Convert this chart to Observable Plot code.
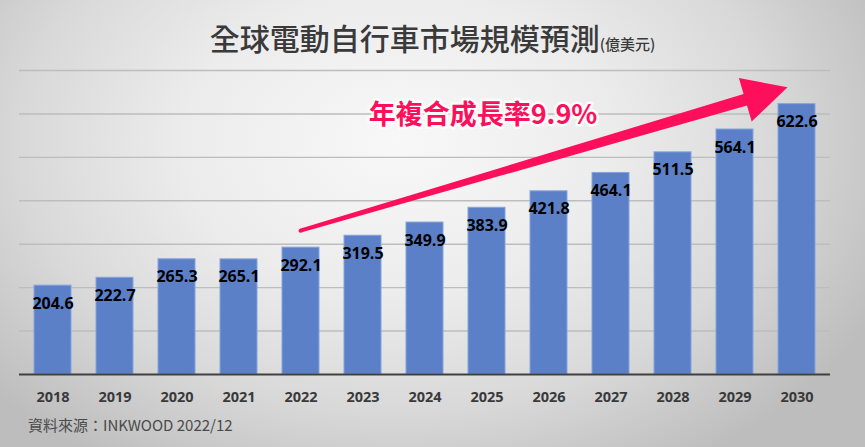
<!DOCTYPE html>
<html>
<head>
<meta charset="utf-8">
<script src="https://cdn.jsdelivr.net/npm/d3@7"></script>
<script src="https://cdn.jsdelivr.net/npm/@observablehq/plot@0.6"></script>
<style>
  html, body { margin: 0; padding: 0; }
  #wrap {
    width: 865px; height: 447px; position: relative; overflow: hidden;
    background: radial-gradient(ellipse 62% 85% at 46% 32%, #f8f8f8 0%, #ececec 40%, #d9d9d9 70%, #bdbdbd 100%);
    font-family: "Open Sans", "Noto Sans CJK TC", sans-serif;
  }
  #title {
    height: 56px; box-sizing: border-box; padding-top: 22px;
    text-align: center; color: #3a3a3a; line-height: 30px;
    font-family: "Noto Sans CJK TC", sans-serif; white-space: nowrap; font-weight: 500;
  }
  #title .main { font-size: 30px; }
  #title .unit { font-size: 15px; }
  #caption {
    height: 37px; line-height: 30px; padding-left: 28px; color: #4a4a4a;
    font-size: 15px; font-family: "Noto Sans CJK TC", "Open Sans", sans-serif;
  }
</style>
</head>
<body>
<div id="wrap">
  <div id="title"><span class="main">全球電動自行車市場規模預測</span><span class="unit">(億美元)</span></div>
  <div id="chart"></div>
  <div id="caption">資料來源：INKWOOD 2022/12</div>
</div>
<script>
const years = ["2018","2019","2020","2021","2022","2023","2024","2025","2026","2027","2028","2029","2030"];
const values = [204.6, 222.7, 265.3, 265.1, 292.1, 319.5, 349.9, 383.9, 421.8, 464.1, 511.5, 564.1, 622.6];
const gridValues = [100, 200, 300, 400, 500, 600, 700];
const cagrLabel = "年複合成長率9.9%";
const cagrAnchor = {year: "2025", value: 596};
const arrowFrom = {year: "2022", value: 330};
const arrowTo = {year: "2030", value: 660};

const data = years.map((y, i) => ({year: y, value: values[i]}));

const plot = Plot.plot({
  width: 865,
  height: 354,
  marginTop: 14,
  marginBottom: 36,
  marginLeft: 19,
  marginRight: 35,
  style: {background: "transparent", fontFamily: "'Open Sans', sans-serif", overflow: "visible"},
  x: {domain: years, paddingInner: 0.4, paddingOuter: 0.2, label: null, axis: null},
  y: {domain: [0, 700], axis: null},
  marks: [
    Plot.ruleY(gridValues, {stroke: "#bdbdbd", strokeWidth: 1.4}),
    Plot.barY(data, {x: "year", y: "value", fill: "#5b80c8", stroke: "#86a3da", strokeWidth: 1}),
    Plot.ruleY([0], {stroke: "#404040", strokeWidth: 2.2}),
    Plot.text(data, {x: "year", y: "value", text: d => d.value.toFixed(1), dy: 18,
      fontWeight: "bold", fontSize: 16, fill: "#000"}),
    Plot.text(years, {x: d => d, frameAnchor: "bottom", dy: 23, text: d => d,
      fontSize: 14.5, fontWeight: "bold", fill: "#3a3a3a", lineAnchor: "middle"}),
    Plot.text([cagrAnchor], {x: "year", y: "value", text: () => cagrLabel, dx: -4,
      fontSize: 27, fontWeight: "bold", fill: "#fe0f5b", stroke: "white", strokeWidth: 5, strokeOpacity: 0.85,
      fontFamily: "'Noto Sans CJK TC', 'Open Sans', sans-serif"})
  ]
});

document.getElementById("chart").appendChild(plot);

// arrow annotation positioned through the plot's own scales
const xs = plot.scale("x"), ys = plot.scale("y");
const bw = xs.bandwidth;
const sx = xs.apply(arrowFrom.year) + bw / 2, sy = ys.apply(arrowFrom.value);
const tx = xs.apply(arrowTo.year) + bw / 2 - 9, ty = ys.apply(arrowTo.value);
const len = Math.hypot(tx - sx, ty - sy);
const ux = (tx - sx) / len, uy = (ty - sy) / len;
const nx = -uy, ny = ux;
const headLen = 44, headHalf = 22.7, shaftEnd = 6, shaftStart = 2;
const bx = tx - headLen * ux, by = ty - headLen * uy;
const pts = [
  [sx + shaftStart * nx, sy + shaftStart * ny],
  [bx + shaftEnd * nx, by + shaftEnd * ny],
  [bx + headHalf * nx, by + headHalf * ny],
  [tx, ty],
  [bx - headHalf * nx, by - headHalf * ny],
  [bx - shaftEnd * nx, by - shaftEnd * ny],
  [sx - shaftStart * nx, sy - shaftStart * ny]
];
const svg = d3.select(plot);
const g = svg.append("g");
g.append("polygon").attr("points", pts.map(p => p.join(",")).join(" ")).attr("fill", "#fe0f5b");
g.append("circle").attr("cx", sx).attr("cy", sy).attr("r", shaftStart).attr("fill", "#fe0f5b");
</script>
</body>
</html>
